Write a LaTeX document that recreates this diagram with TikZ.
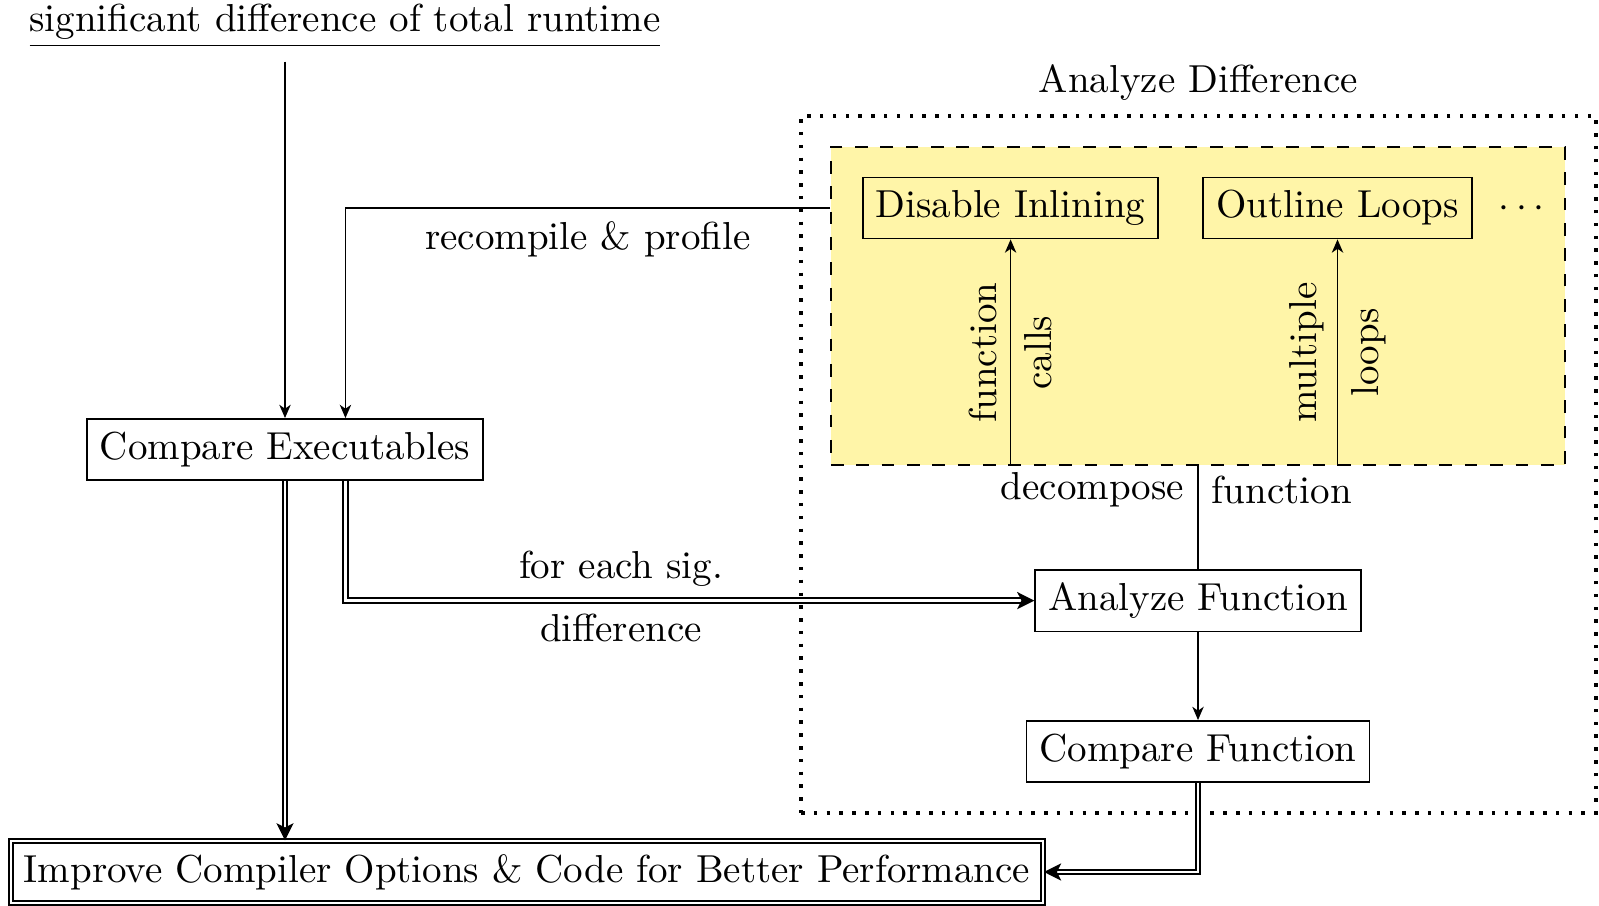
\documentclass[tikz,border=0pt]{standalone}
\usetikzlibrary{arrows.meta}
\definecolor{ybg}{RGB}{255,245,168}
\begin{document}
\begin{tikzpicture}[x=0.2564pt, y=-0.2564pt,
  line width=0.45pt,
  arr/.style={-{Stealth[length=3.4pt, width=2.9pt, inset=1pt]}},
  box/.style={draw, rectangle, inner sep=0.3333em},
  dbl/.style={double, double distance=0.7pt, -{Stealth[length=4.4pt, width=4.4pt, inset=1.1pt]}},
  dotbox/.style={draw, rectangle, line width=0.9pt, dash pattern=on 0.9pt off 2.38pt, minimum width=203.8pt, minimum height=178.7pt, inner sep=0pt},
  ybox/.style={draw, rectangle, fill=ybg, dash pattern=on 3.25pt off 3.25pt, minimum width=188.2pt, minimum height=81.5pt, inner sep=0pt},
  lbl/.style={inner sep=0.3333em}]
\useasboundingbox (0,0) rectangle (1599,906);

% containers
\node[dotbox] (ad) at (1198.5,464.5) {};
\node[above, lbl] (adl) at (ad.north) {Analyze Difference};
\node[ybox] (yb) at (1198,306) {};

% nodes
\node[anchor=base] (title) at (345,32) {\underline{significant difference of total runtime}};
\node[box] (ce) at (285,449.5) {Compare Executables};
\node[box] (di) at (1010.6,208) {Disable Inlining};
\node[box] (ol) at (1337.5,208) {Outline Loops};
\node[anchor=base] (dots) at ([xshift=47.2pt]ol.base) {$\cdots$};
\node[box] (af) at (1198,600.6) {Analyze Function};
\node[box] (cf) at (1198,751.5) {Compare Function};
\node[draw, double, double distance=0.6pt, inner sep=0.3333em] (imp) at (527,872) {Improve Compiler Options \& Code for Better Performance};

% connectors
\draw[arr] (title.south -| ce.north) -- (ce.north);
\draw[arr] (yb.west |- di.west) -| node[pos=0.25, below] (rp) {recompile \& profile} ([xshift=15.5pt]ce.north);
\draw[dbl] (ce.south) -- (ce.south |- imp.north);
\draw[dbl] ([xshift=15.5pt]ce.south) |- node[pos=0.7, above] (fes) {for each sig.} node[pos=0.7, below] (dif) {difference} (af.west);
\draw (af.north) -- node[pos=0.77, left] (dec) {decompose} node[pos=0.77, right] (fun) {function} (yb.south -| af.north);
\draw[arr] (yb.south -| di.south) -- node[midway, above, sloped] (fc1) {function} node[midway, below, sloped] (fc2) {calls} (di.south);
\draw[arr] (yb.south -| ol.south) -- node[midway, above, sloped] (ml1) {multiple} node[midway, below, sloped] (ml2) {loops} (ol.south);
\draw[arr] (af.south) -- (cf.north);
\draw[dbl] (cf.south) |- (imp.east);
\end{tikzpicture}
\end{document}
